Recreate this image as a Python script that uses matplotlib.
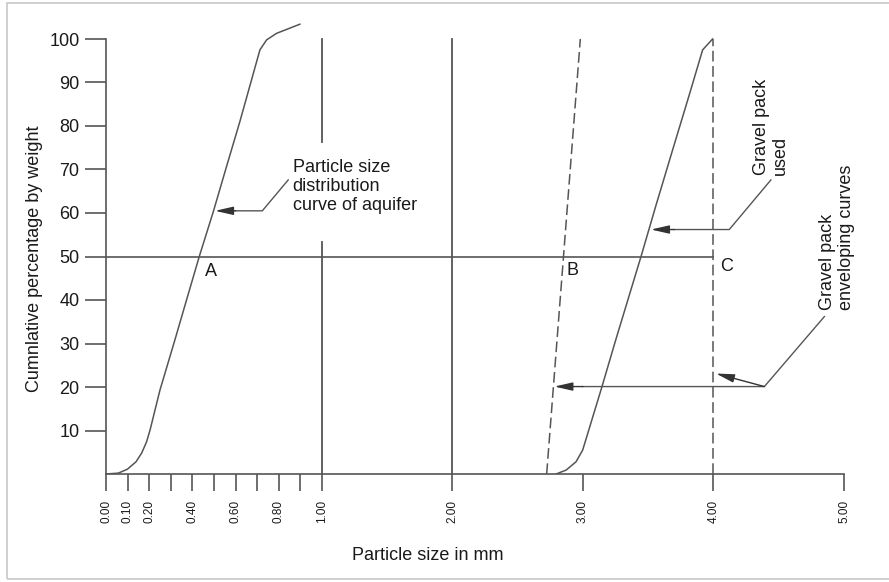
import numpy as np
import matplotlib
matplotlib.use('Agg')
import matplotlib.pyplot as plt
from matplotlib.patches import Rectangle

plt.rcParams['font.family'] = ['Liberation Sans', 'DejaVu Sans']
plt.rcParams['font.size'] = 13

#%% Data (particle size in mm, cumulative % by weight)
aquifer_x = [0, 0.057, 0.099, 0.139, 0.165, 0.188, 0.204, 0.25, 0.319, 0.373, 0.432,
             0.497, 0.559, 0.62, 0.713, 0.744, 0.79, 0.898]
aquifer_y = [0, 0.2, 1.1, 2.8, 4.8, 7.4, 10.1, 19.3, 30.8, 40, 50,
             60.3, 70.8, 81.0, 97.5, 99.8, 101.3, 103.4]

gravel_x = [2.794, 2.871, 2.947, 2.998, 3.146, 3.248, 3.445, 3.56, 3.687, 3.815, 3.917, 3.993]
gravel_y = [0, 0.9, 2.8, 5.5, 20.1, 30.5, 50, 61.8, 74.5, 87.2, 97.5, 100]

env_b_x = [2.722, 2.98]
env_b_y = [0, 100]
env_c_x = [4.0, 4.0]
env_c_y = [0, 100]

d50 = 50
x_ticks = [0, 0.1, 0.2, 0.3, 0.4, 0.5, 0.6, 0.7, 0.8, 0.9, 1.0, 2.0, 3.0, 4.0, 5.0]
x_labels = ['0.00', '0.10', '0.20', '', '0.40', '', '0.60', '', '0.80', '', '1.00',
            '2.00', '3.00', '4.00', '5.00']
y_ticks = [10, 20, 30, 40, 50, 60, 70, 80, 90, 100]

#%% Piecewise x scale: 0-1 mm stretched
k = 216 / 130.6
def fwd(x):
    x = np.asarray(x, dtype=float)
    return np.where(x <= 1, x * k, k + (x - 1))
def inv(u):
    u = np.asarray(u, dtype=float)
    return np.where(u <= k, u / k, u - k + 1)

lc = '#555555'
tc = '#1a1a1a'

fig = plt.figure(figsize=(8.89, 5.82), dpi=100)
fig.patches.append(Rectangle((7/889, 3/582), 1.0, (576)/582, transform=fig.transFigure,
                             fill=False, edgecolor='#c8c8c8', lw=1.2))
ax = fig.add_axes([106/889, (582-474)/582, 738/889, (474-17.25)/582])
ax.set_xscale('function', functions=(fwd, inv))
ax.set_xlim(0, 5)
ax.set_ylim(0, 105)

for s in ['top', 'right']:
    ax.spines[s].set_visible(False)
ax.spines['left'].set_bounds(0, 100)
ax.spines['left'].set_color(lc)
ax.spines['bottom'].set_color(lc)
ax.spines['left'].set_linewidth(1.2)
ax.spines['bottom'].set_linewidth(1.2)

ax.set_xticks(x_ticks)
ax.set_xticklabels(x_labels, rotation=90, fontsize=8.5)
ax.xaxis.set_minor_locator(plt.NullLocator())
ax.tick_params(axis='x', length=12.5, width=1.2, color=lc, pad=6, labelcolor=tc)
ax.set_yticks(y_ticks)
ax.tick_params(axis='y', length=15, width=1.2, color=lc, pad=4, labelcolor=tc, labelsize=13)

# reference lines
ax.plot([1, 1], [0, 53.4], color=lc, lw=1.3)
ax.plot([1, 1], [76.4, 100], color=lc, lw=1.3)
ax.plot([2, 2], [0, 100], color=lc, lw=1.3)
ax.plot([0, 4], [d50, d50], color=lc, lw=1.2)

# curves
ax.plot(aquifer_x, aquifer_y, color=lc, lw=1.1)
ax.plot(gravel_x, gravel_y, color=lc, lw=1.1)
ax.plot(env_b_x, env_b_y, color=lc, lw=1.1, dashes=(7, 3))
ax.plot(env_c_x, env_c_y, color=lc, lw=1.1, dashes=(7, 3))

ax.text(0.46, 46.5, 'A', ha='left', va='center', color=tc)
ax.text(2.875, 46.8, 'B', ha='left', va='center', color=tc)
ax.text(4.05, 47.8, 'C', ha='left', va='center', color=tc)

aprops = dict(arrowstyle='-|>,head_length=1.1,head_width=0.25', color='#333333', lw=1.0,
              shrinkA=0, shrinkB=0, mutation_scale=10)

# aquifer label
ax.plot([0.844, 0.724, 0.6], [67.6, 60.5, 60.5], color=lc, lw=1.0)
ax.annotate('', xy=(0.505, 60.5), xytext=(0.6, 60.5), arrowprops=aprops)
ax.text(0.864, 72.4, 'Particle size\ndistribution\ncurve of aquifer', ha='left', va='top',
        color=tc, linespacing=1.15)

# gravel pack used label
ax.plot([4.44, 4.121, 3.7], [67.6, 56.2, 56.2], color=lc, lw=1.0)
ax.annotate('', xy=(3.521, 56.2), xytext=(3.7, 56.2), arrowprops=aprops)
ax.text(4.44, 68.7, 'Gravel pack\nused', rotation=90, ha='center', va='bottom',
        color=tc, multialignment='left', linespacing=1.15)

# enveloping curves label
ax.plot([4.85, 4.39, 3.0], [36.2, 20.1, 20.1], color=lc, lw=1.0)
ax.annotate('', xy=(2.781, 20.1), xytext=(3.0, 20.1), arrowprops=aprops)
ax.annotate('', xy=(4.019, 23.1), xytext=(4.39, 20.1), arrowprops=aprops)
ax.text(4.95, 37.7, 'Gravel pack\nenveloping curves', rotation=90, ha='center', va='bottom',
        color=tc, multialignment='left', linespacing=1.15)

fig.text(35/889, (582-259)/582, 'Cumnlative percentage by weight', rotation=90,
         ha='center', va='center', color=tc)
fig.text(428/889, (582-555)/582, 'Particle size in mm', ha='center', va='center', color=tc)

fig.savefig('out.png', dpi=100)
